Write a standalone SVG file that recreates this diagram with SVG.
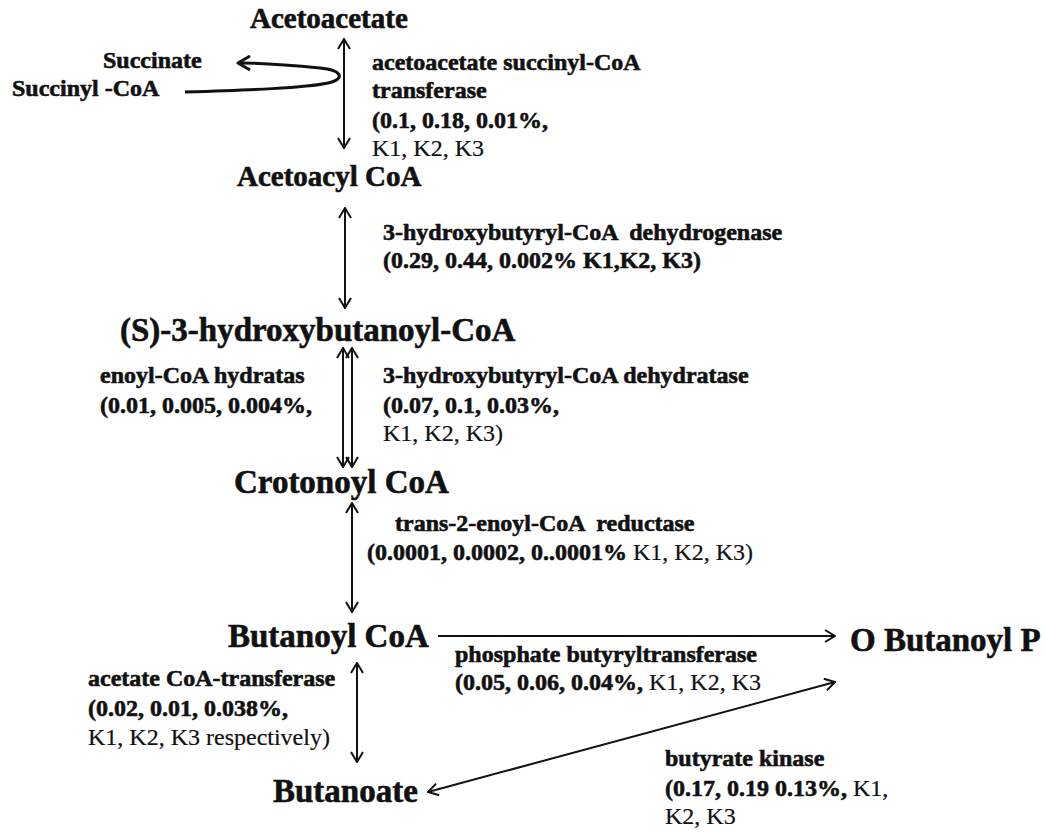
<svg xmlns="http://www.w3.org/2000/svg" width="1046" height="832" viewBox="0 0 1046 832">
  <style>
    text { font-family: "Liberation Serif", "Times New Roman", serif; fill: #111; font-weight: bold; white-space: pre; stroke: #111; stroke-width: 0.6; }
    .big { font-size: 33px; }
    .mid { font-size: 29px; }
    .lbl { font-size: 24px; }
    .reg { font-weight: normal; stroke-width: 0.2; }
    .arr { stroke: #111; stroke-width: 2; fill: none; }
  </style>
  <defs>
    <marker id="head" viewBox="0 0 12 14" refX="11" refY="7" markerWidth="12" markerHeight="14" markerUnits="userSpaceOnUse" orient="auto-start-reverse">
      <path d="M1,1 L11,7 L1,13" fill="none" stroke="#111" stroke-width="2"/>
    </marker>
    <marker id="headBold" viewBox="0 0 16 18" refX="14" refY="9" markerWidth="16" markerHeight="18" markerUnits="userSpaceOnUse" orient="auto">
      <path d="M2,2 L14,9 L2,16" fill="none" stroke="#111" stroke-width="3" stroke-linejoin="round"/>
    </marker>
  </defs>

  <!-- connectors -->
  <g id="connectors">
    <line class="arr" x1="344" y1="39" x2="344" y2="148" marker-start="url(#head)" marker-end="url(#head)"/>
    <path d="M185,92 C250,90 305,88 328,83 C346,79 342,70 320,68 C290,65 262,63 238,63" fill="none" stroke="#111" stroke-width="3" marker-end="url(#headBold)"/>
    <line class="arr" x1="345" y1="208" x2="345" y2="308" marker-start="url(#head)" marker-end="url(#head)"/>
    <line class="arr" x1="343" y1="348" x2="343" y2="467" marker-start="url(#head)" marker-end="url(#head)"/>
    <line class="arr" x1="352" y1="348" x2="352" y2="467" marker-start="url(#head)" marker-end="url(#head)"/>
    <line class="arr" x1="352" y1="503" x2="352" y2="612" marker-start="url(#head)" marker-end="url(#head)"/>
    <line class="arr" x1="438" y1="636" x2="835" y2="636" marker-end="url(#head)"/>
    <line class="arr" x1="357" y1="663" x2="357" y2="762" marker-start="url(#head)" marker-end="url(#head)"/>
    <line class="arr" x1="428" y1="792" x2="835" y2="682" marker-start="url(#head)" marker-end="url(#head)"/>
  </g>

  <!-- metabolites -->
  <g id="acetoacetate"><text class="mid" x="250" y="28">Acetoacetate</text></g>
  <g id="succinate"><text class="lbl" x="103" y="68">Succinate</text></g>
  <g id="succinyl-coa"><text class="lbl" x="12" y="96">Succinyl -CoA</text></g>
  <g id="acetoacyl-coa"><text class="mid" x="237" y="186">Acetoacyl CoA</text></g>
  <g id="hydroxybutanoyl-coa"><text class="big" x="120" y="341">(S)-3-hydroxybutanoyl-CoA</text></g>
  <g id="crotonoyl-coa"><text class="big" x="234" y="493">Crotonoyl CoA</text></g>
  <g id="butanoyl-coa"><text class="big" x="228" y="647">Butanoyl CoA</text></g>
  <g id="butanoyl-p"><text class="big" x="850" y="651">O Butanoyl P</text></g>
  <g id="butanoate"><text class="big" x="273" y="802">Butanoate</text></g>

  <!-- enzyme labels -->
  <g id="enzyme-scot">
    <text class="lbl" x="372" y="70">acetoacetate succinyl-CoA</text>
    <text class="lbl" x="372" y="98">transferase</text>
    <text class="lbl" x="372" y="128">(0.1, 0.18, 0.01%,</text>
    <text class="lbl reg" x="372" y="156">K1, K2, K3</text>
  </g>
  <g id="enzyme-dehydrogenase">
    <text class="lbl" x="383" y="240">3-hydroxybutyryl-CoA  dehydrogenase</text>
    <text class="lbl" x="383" y="268">(0.29, 0.44, 0.002% K1,K2, K3)</text>
  </g>
  <g id="enzyme-hydratase">
    <text class="lbl" x="100" y="383">enoyl-CoA hydratas</text>
    <text class="lbl" x="100" y="413">(0.01, 0.005, 0.004%,</text>
  </g>
  <g id="enzyme-dehydratase">
    <text class="lbl" x="383" y="383">3-hydroxybutyryl-CoA dehydratase</text>
    <text class="lbl" x="383" y="413">(0.07, 0.1, 0.03%,</text>
    <text class="lbl reg" x="383" y="441">K1, K2, K3)</text>
  </g>
  <g id="enzyme-reductase">
    <text class="lbl" x="395" y="531">trans-2-enoyl-CoA  reductase</text>
    <text class="lbl" x="367" y="560">(0.0001, 0.0002, 0..0001% <tspan class="reg">K1, K2, K3)</tspan></text>
  </g>
  <g id="enzyme-ptb">
    <text class="lbl" x="455" y="662">phosphate butyryltransferase</text>
    <text class="lbl" x="455" y="690">(0.05, 0.06, 0.04%, <tspan class="reg">K1, K2, K3</tspan></text>
  </g>
  <g id="enzyme-act">
    <text class="lbl" x="88" y="686">acetate CoA-transferase</text>
    <text class="lbl" x="88" y="716">(0.02, 0.01, 0.038%,</text>
    <text class="lbl reg" x="88" y="745">K1, K2, K3 respectively)</text>
  </g>
  <g id="enzyme-buk">
    <text class="lbl" x="665" y="766">butyrate kinase</text>
    <text class="lbl" x="665" y="796">(0.17, 0.19 0.13%, <tspan class="reg">K1,</tspan></text>
    <text class="lbl reg" x="665" y="824">K2, K3</text>
  </g>
</svg>
